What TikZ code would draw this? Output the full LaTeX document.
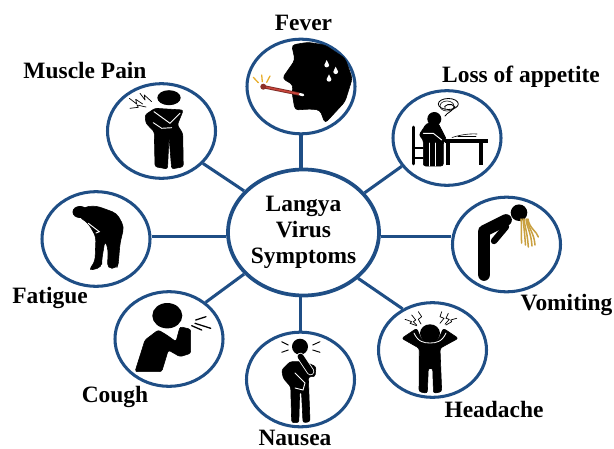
\documentclass[tikz,border=0pt]{standalone}
\usepackage{fontspec}
\setmainfont{Liberation Serif}
\usetikzlibrary{shapes.geometric}
\definecolor{virusblue}{HTML}{1F4E85}
\definecolor{thermored}{HTML}{C8443A}
\definecolor{rayyellow}{HTML}{E8AE2E}
\definecolor{sickgold}{HTML}{C9A040}
\tikzset{
  symptom/.style={draw=virusblue, line width=2.6pt, ellipse, inner sep=0pt, minimum width=3.24cm, minimum height=2.84cm},
  hubnode/.style={draw=virusblue, line width=3.2pt, ellipse, inner sep=0pt, minimum width=4.53cm, minimum height=3.78cm, align=center, font=\bfseries\fontsize{20}{21.9}\selectfont},
  symptomlabel/.style={anchor=base, inner sep=0pt, font=\bfseries\fontsize{20}{23}\selectfont},
  link/.style={draw=virusblue, line width=2.6pt, line cap=butt},
  figure/.style={fill=black, draw=black, line width=0.5pt, rounded corners=2pt},
  pain/.style={draw=black, line width=0.6pt, line join=round},
  gap/.style={draw=white, line width=0.8pt, line cap=round},
}
\begin{document}
\begin{tikzpicture}[x=0.03cm, y=-0.03cm, line cap=round]
  \useasboundingbox (0,0) rectangle (614,449);
  % the hub and the eight circles
  \node[hubnode] (hub) at (303.5,232.5) {Langya\\Virus\\Symptoms};
  \node[symptom] (fever) at (301,86.5) {};
  \node[symptom] (muscle) at (161.5,131) {};
  \node[symptom] (appetite) at (447,138) {};
  \node[symptom] (vomiting) at (506.5,244.5) {};
  \node[symptom] (fatigue) at (96,239) {};
  \node[symptom] (cough) at (169,339) {};
  \node[symptom] (nausea) at (300.5,379.5) {};
  \node[symptom] (headache) at (432.5,350) {};
  \draw[link] (fever.south) -- (fever.south |- hub.north);
  \draw[link] (nausea.north) -- (nausea.north |- hub.south);
  \draw[link] (hub.183) -- (hub.183 -| fatigue.east);
  \draw[link] (hub.-3) -- (hub.-3 -| vomiting.west);
  \draw[link] (hub.145) -- (muscle.-38);
  \draw[link] (hub.33) -- (appetite.212);
  \draw[link] (hub.215) -- (cough.45);
  \draw[link] (hub.-40) -- (headache.126);
  % labels
  \node[symptomlabel] (feverlabel) at (303.5,30) {Fever};
  \node[symptomlabel] (musclelabel) at (85,78) {Muscle Pain};
  \node[symptomlabel] (appetitelabel) at (521,82) {Loss of appetite};
  \node[symptomlabel] (vomitinglabel) at (566.5,310) {Vomiting};
  \node[symptomlabel] (fatiguelabel) at (50,303) {Fatigue};
  \node[symptomlabel] (coughlabel) at (115,402) {Cough};
  \node[symptomlabel] (nausealabel) at (295,445.5) {Nausea};
  \node[symptomlabel] (headachelabel) at (494,417) {Headache};
  % fever
  \fill[figure, rounded corners=3pt] (291.7,45) -- (295,60) -- (282.3,78.3) -- (293.3,85) -- (292,92) -- (295,110)
    -- (310,109) -- (320,110) -- (325,123.3) -- (345,101.7) -- (352.3,78.3) -- (345,58.3) -- (325,45) -- (308,42.3) -- cycle;
  \foreach \x/\y in {326.7/65, 335.7/71.7, 329/79.3} {
    \fill[white] (\x,\y-5) -- (\x+2.4,\y) arc (0:180:2.4) -- cycle;
  }
  \draw[thermored!60!black, line width=2.8pt] (263.3,86.7) -- (299,94);
  \draw[thermored, line width=1.4pt] (263.3,86.7) -- (299,94);
  \fill[thermored!70!black] (263.3,86.7) circle (3);
  \draw[white, line width=2.2pt] (300,94.3) -- (303,95);
  \draw[rayyellow, line width=1.1pt] (253.3,77.3) -- (258.3,82.7);
  \draw[rayyellow, line width=1.1pt] (261.7,75) -- (262.3,81.7);
  \draw[rayyellow, line width=1.1pt] (270,76) -- (266.7,82.3);
  % muscle pain
  \fill (169,97.7) circle [x radius=11.7, y radius=7.5];
  \fill[figure] (145,115) -- (155,108.3) -- (183.3,110) -- (177.3,125) -- (182.7,133.3) -- (183.3,166.7) -- (171.7,169)
    -- (169,136.7) -- (167.5,169) -- (155,166.7) -- (154.3,131.7) -- (146,123.3) -- cycle;
  \draw[gap] (154,111.7) -- (170,123.3) -- (180,113.3);
  \draw[gap] (153.3,122.7) -- (161.7,128.3) -- (171.7,127.7);
  \draw[pain] (129.3,98.3) -- (136.7,104) -- (135.7,99.3) -- (142.7,104);
  \draw[pain] (140,93.3) -- (145,100) -- (144.3,95) -- (151.7,101.7);
  \draw[pain] (130,108.3) -- (138.3,107.3) -- (137,105) -- (146,107);
  % loss of appetite
  \fill (434.3,119) circle (7);
  \fill[figure] (419,135) -- (426.7,123.3) -- (438.3,123.3) -- (446.7,140) -- (443.3,141.7) -- (443.3,166)
    -- (423.3,166) -- (423.3,140) -- cycle;
  \draw[gap] (429.3,143) -- (429.3,166);
  \draw[gap] (435.7,143) -- (435.7,166);
  \draw[gap] (423.3,133.3) -- (433.3,133.3) -- (441.7,140);
  \draw[black, line width=2.3pt] (413.3,127) -- (413.3,164);
  \draw[black, line width=1.6pt] (414,148) -- (423,148);
  \draw[black, line width=1.6pt] (414,158) -- (423,158);
  \fill (445,139.3) rectangle (487.7,143.3);
  \draw[black, line width=3.2pt, line cap=butt] (448.3,143) -- (448.3,165);
  \draw[black, line width=3.2pt, line cap=butt] (481,143) -- (481,165);
  \draw[black, line width=0.5pt] (452,137.5) .. controls (460,135) and (468,133.5) .. (477,134);
  \draw[black, line width=0.7pt] (458,136.5) -- (476,136.5);
  \draw[black, line width=0.7pt] (448.3,104) circle [x radius=10, y radius=5.5];
  \draw[black, line width=0.5pt] (447,106) circle [x radius=7, y radius=5];
  \draw[black, line width=0.7pt] (445,109) .. controls (442,105) and (452,102) .. (455,107) .. controls (450,113) and (448,112) .. (445,116);
  % vomiting
  \fill (519,212.7) circle (8.3);
  \draw[black, line width=10pt, line join=round] (484,275) -- (484,231) -- (506,220);
  \draw[black, line width=5.5pt] (506,226.7) -- (494,241);
  \foreach \xa/\xb/\yb in {521/521.7/243, 523/525.5/245, 524/528.3/247, 526/532/246, 527/535/245, 528/538.3/237} {
    \draw[sickgold, line width=1.3pt] (\xa,219) .. controls (\xa+1,228) and (\xb-1,232) .. (\xb,\yb);
  }
  % fatigue
  \fill (80,212) circle [x radius=7.5, y radius=6];
  \fill[figure, rounded corners=4pt] (78,216) -- (84,206.7) -- (96.7,206) -- (116.7,213.3) -- (124,226.7) -- (120,243.3) -- (118.3,263.3)
    -- (116.7,268.3) -- (107.3,268.3) -- (108.3,250) -- (105,240) -- (101.7,260) -- (101.7,267.3) -- (88.3,270.7)
    -- (95,261.7) -- (96,236.7) -- (88.3,223.3) -- cycle;
  \draw[gap] (88.3,223.3) -- (99.3,231.7) -- (96,233);
  % cough
  \fill (167.3,315.7) circle [x radius=15, y radius=12.7];
  \fill[figure] (135,371.7) -- (145,340) -- (158.3,330) -- (166.7,335) -- (176,341.7) -- (180,326.7) -- (190.7,329.3)
    -- (190.7,353.3) -- (180,356.7) -- (168.3,350) -- (161.7,371.7) -- cycle;
  \draw[black, line width=1.1pt] (195.7,320) -- (206,316.7);
  \draw[black, line width=1.1pt] (195,323.3) -- (210.7,328.3);
  \draw[black, line width=1.1pt] (191.7,325.7) -- (201.7,330);
  % nausea
  \fill (300,346.7) circle (8);
  \fill[figure] (281.7,370) -- (290,361.7) -- (305,361.7) -- (316,366.7) -- (315,376.7) -- (308.3,376.7) -- (310,421.7)
    -- (303,422.7) -- (301.5,391.7) -- (299.7,391.7) -- (298.8,422.7) -- (291.7,422.7) -- (290.7,386.7) -- (283.3,378.3) -- cycle;
  \draw[white, line width=6.5pt] (310.5,371.5) -- (300.5,356.5);
  \draw[black, line width=5pt] (310.5,371.5) -- (300.5,356.5);
  \draw[gap] (295,373) -- (305,383) -- (303,390) -- (295,388);
  \draw[black, line width=0.8pt] (281.7,341.7) -- (288.3,345);
  \draw[black, line width=0.8pt] (281.7,352.3) -- (288.3,350);
  \draw[black, line width=0.8pt] (320,341.7) -- (312.7,345);
  \draw[black, line width=0.8pt] (320,352.3) -- (312.7,350);
  % headache
  \fill (430,333.3) circle [x radius=10, y radius=9];
  \fill[figure] (401.7,338.3) -- (416.7,328.3) -- (421.7,340) -- (438.3,340) -- (443.3,328.3) -- (458.3,338.3) -- (440,348.3)
    -- (441.7,391.7) -- (433.5,393.3) -- (432.7,368.3) -- (428.3,368.3) -- (427.3,393.3) -- (419,391.7) -- (419.3,348.3) -- cycle;
  \draw[white, line width=0.7pt] (414,333) .. controls (418,342) and (424,343) .. (430,343) .. controls (436,343) and (442,342) .. (446,333);
  \draw[pain] (418.3,311.7) -- (421.7,316.7) -- (418.3,319.3) -- (421,324);
  \draw[pain] (411.7,315) -- (415.7,320) -- (413.3,321.7) -- (416.7,325);
  \draw[pain] (405,319.3) -- (411.7,321.7) -- (410,323.3) -- (416.7,325.7);
  \draw[pain] (441.7,311.7) -- (440,316.7) -- (444,318.3) -- (440,323.3);
  \draw[pain] (448.3,313.3) -- (446,318.3) -- (449.3,319.3) -- (445,324.3);
  \draw[pain] (456.7,318.3) -- (450.7,320) -- (451.7,321.7) -- (446,325);
\end{tikzpicture}
\end{document}
